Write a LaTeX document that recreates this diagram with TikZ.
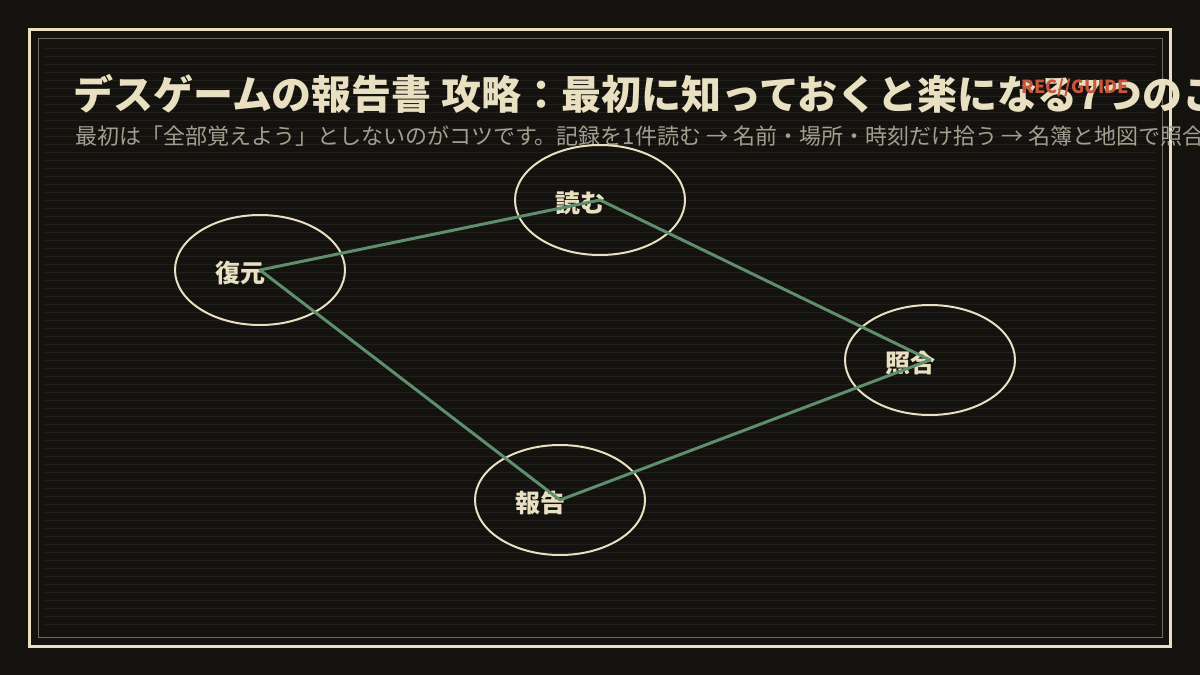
\documentclass[tikz,border=0pt]{standalone}
\usepackage{fontspec}
\newfontfamily\jpfont{Noto Sans CJK JP}
\usetikzlibrary{shapes.geometric}
\definecolor{bgdark}{HTML}{13120F}
\definecolor{scanline}{HTML}{201F1B}
\definecolor{cream}{HTML}{E9E0C2}
\definecolor{framegray}{HTML}{6E6A5E}
\definecolor{subgray}{HTML}{A39E8E}
\definecolor{edgegreen}{HTML}{5E8E6C}
\definecolor{recred}{HTML}{C9553B}
\begin{document}
\begin{tikzpicture}[
    x=1pt, y=-1pt,
    stage/.style={ellipse, draw=cream, line width=2pt,
                  minimum width=170pt, minimum height=110pt, inner sep=0pt},
    lbl/.style={font=\jpfont\bfseries\fontsize{25}{27}\selectfont,
                text=cream, inner sep=0pt},
    flow/.style={draw=edgegreen, line width=3pt, line cap=round, line join=round},
  ]

  % Background and frames
  \fill[bgdark] (0,0) rectangle (1200,675);
  \useasboundingbox (0,0) rectangle (1200,675);
  \foreach \y in {48,56,...,624}
    \draw[scanline, line width=1pt] (45,\y) -- (1156,\y);
  \draw[cream, line width=3pt] (29.5,29.5) rectangle (1170.5,646.5);
  \draw[framegray, line width=1pt] (38.5,38.5) rectangle (1162,637.5);

  % Title and subtitle
  \node[anchor=base west, inner sep=0pt, text=cream,
        font=\jpfont\bfseries\fontsize{40}{42}\selectfont]
    (title) at (73,109) {デスゲームの報告書 攻略：最初に知っておくと楽になる7つのこと};
  \node[anchor=base west, inner sep=0pt, text=subgray,
        font=\jpfont\fontsize{22}{25}\selectfont]
    (subtitle) at (75,144)
    {最初は「全部覚えよう」としないのがコツです。記録を1件読む → 名前・場所・時刻だけ拾う → 名簿と地図で照合する};
  \node[anchor=base east, inner sep=0pt, text=recred,
        font=\jpfont\bfseries\fontsize{18}{20}\selectfont]
    (tag) at (1129,93) {REC//GUIDE};

  % Stages
  \node[stage, label={[lbl, xshift=-20pt, yshift=-3pt]center:復元}] (fukugen) at (260,270) {};
  \node[stage, label={[lbl, xshift=-20pt, yshift=-3pt]center:読む}] (yomu)    at (600,200) {};
  \node[stage, label={[lbl, xshift=-20pt, yshift=-3pt]center:照合}] (shogo)   at (930,360) {};
  \node[stage, label={[lbl, xshift=-20pt, yshift=-3pt]center:報告}] (hokoku)  at (560,500) {};

  % Loop
  \draw[flow] (fukugen.center) -- (yomu.center);
  \draw[flow] (yomu.center)    -- (shogo.center);
  \draw[flow] (shogo.center)   -- (hokoku.center);
  \draw[flow] (hokoku.center)  -- (fukugen.center);

\end{tikzpicture}
\end{document}
